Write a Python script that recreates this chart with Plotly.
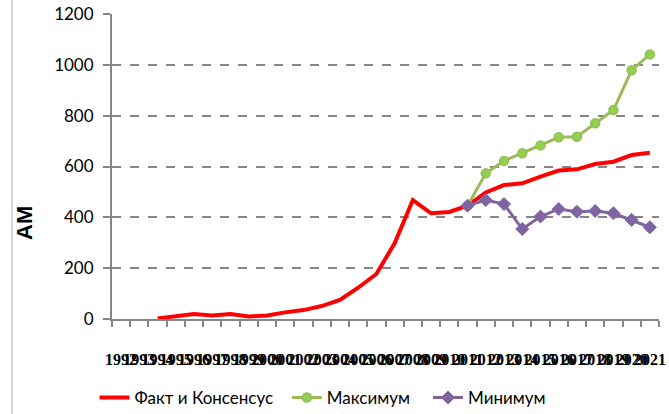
import plotly.graph_objects as go

# Years on the category axis
years = [str(y) for y in range(1992, 2022)]

# Actual values and consensus forecast
fact_consensus = [None, None, 2, 12, 20, 14, 20, 10, 14, 26, 35, 51, 75, 123, 177, 298,
                  468, 416, 421, 446, 498, 527, 534, 560, 584, 589, 610, 619, 645, 654]
# Upper forecast bound
maximum = [None] * 19 + [446, 573, 622, 652, 683, 715, 717, 770, 822, 979, 1041]
# Lower forecast bound
minimum = [None] * 19 + [446, 468, 452, 354, 403, 433, 422, 425, 416, 390, 361]

legend_font = dict(family="Lato", size=17, color="#000000")
NBSP = "\u00a0"  # widens the gap between legend entries

fig = go.Figure()
fig.add_trace(go.Scatter(
    x=years, y=fact_consensus, mode="lines", name="Факт и Консенсус" + NBSP * 2,
    line=dict(color="#ff0000", width=4), connectgaps=False,
))
fig.add_trace(go.Scatter(
    x=years, y=maximum, mode="lines+markers", name="Максимум" + NBSP * 3,
    line=dict(color="#9bbb59", width=3),
    marker=dict(symbol="circle", size=9, color="#92d050",
                line=dict(color="#9bbb59", width=1.5)),
))
fig.add_trace(go.Scatter(
    x=years, y=minimum, mode="lines+markers", name="Минимум",
    line=dict(color="#8064a2", width=3),
    marker=dict(symbol="diamond", size=10, color="#8064a2",
                line=dict(color="#8064a2", width=1)),
))

fig.update_layout(
    width=669, height=414,
    margin=dict(l=112, r=10, t=14, b=95, autoexpand=False),
    paper_bgcolor="white", plot_bgcolor="white",
    showlegend=True,
    legend=dict(orientation="h", xref="container", yref="container",
                x=323 / 669, xanchor="center", y=(414 - 398) / 414, yanchor="middle",
                font=legend_font, itemwidth=30, tracegroupgap=0),
)

fig.update_xaxes(
    type="category", categoryorder="array", categoryarray=years,
    range=[-0.5, len(years) - 0.5],
    tickmode="linear", tick0=0, dtick=1, tickangle=0,
    tickson="boundaries", ticks="outside", ticklen=6, tickwidth=2, tickcolor="#868686",
    showline=True, linecolor="#868686", linewidth=2,
    showgrid=False, zeroline=False,
    tickfont=dict(family="Liberation Sans Narrow", size=16, color="#000000", weight="bold"),
    ticklabelstandoff=25,
    automargin=False,
)
fig.update_yaxes(
    range=[0, 1200], tickmode="linear", tick0=0, dtick=200,
    ticks="outside", ticklen=7, tickwidth=2, tickcolor="#868686",
    showline=True, linecolor="#868686", linewidth=2,
    showgrid=True, gridcolor="#868686", gridwidth=2, griddash="dash",
    zeroline=False,
    tickfont=dict(family="Lato", size=17, color="#000000"),
    ticklabelstandoff=6,
    automargin=False,
)

# Axis title, drawn as rotated text at the left
fig.add_annotation(
    text="<b>АМ</b>", textangle=-90, xref="paper", yref="paper",
    x=(25 - 112) / 547, y=(319 - 223) / 305, xanchor="center", yanchor="middle",
    showarrow=False, font=dict(family="Liberation Sans", size=22, color="#000000"),
)

# Thin frame edge along the left side
fig.add_shape(type="line", xref="paper", yref="paper",
              x0=(12 - 112) / 547, x1=(12 - 112) / 547, y0=-95 / 305, y1=1.05,
              line=dict(color="#d9d9d9", width=2))

fig.write_html("out.html")
